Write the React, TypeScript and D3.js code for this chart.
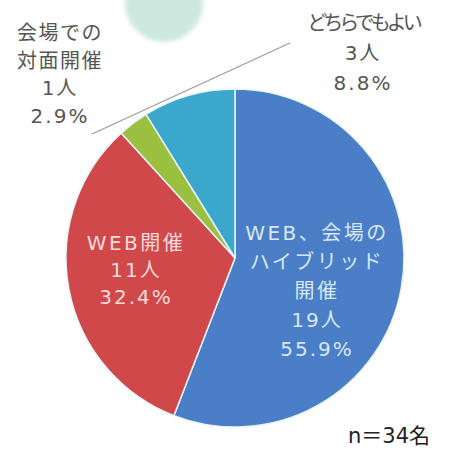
import React from "react";
import * as d3 from "d3";

const categories = ["WEB、会場のハイブリッド開催", "WEB開催", "会場での対面開催", "どちらでもよい"];
const counts = [19, 11, 1, 3];
const percents = ["55.9%", "32.4%", "2.9%", "8.8%"];
const nameLines = [["WEB、会場の", "ハイブリッド", "開催"], ["WEB開催"], ["会場での", "対面開催"], ["どちらでもよい"]];
const colors = ["#4a7ec7", "#d0484a", "#9bbf3e", "#3ba7cd"];
const totalLabel = "n＝34名";

const W = 470, H = 450;
const cx = 235, cy = 258, R = 169;

export default function App() {
  const pie = d3.pie<number>().sort(null).value((d) => d).startAngle(0).endAngle(2 * Math.PI);
  const arcs = pie(counts);
  const arcGen = d3.arc<d3.PieArcDatum<number>>().innerRadius(0).outerRadius(R);
  const font = "'DejaVu Sans', 'Noto Sans CJK JP', sans-serif";

  // label placements (center x, first line y, line gap, fill, per-line spacing)
  const labelPos = [
    { x: 317, y: 233, gap: 29, fill: "#dbe7f6", nameLs: 2.5, numLs: 2 },
    { x: 136, y: 243, gap: 27, fill: "#f6dcdc", nameLs: 2.5, numLs: 2 },
    { x: 60, y: 33, gap: 27.5, fill: "#555555", nameLs: 1.5, numLs: 2 },
    { x: 363, y: 23, gap: 30, fill: "#555555", nameLs: -4, numLs: 2 },
  ];

  return (
    <svg width={W} height={H} style={{ position: "absolute", left: 0, top: 0, background: "#ffffff" }}>
      <defs>
        <filter id="soft" x="-20%" y="-20%" width="140%" height="140%">
          <feGaussianBlur stdDeviation="2" />
        </filter>
      </defs>
      <circle cx={164} cy={3} r={39} fill="#cde9df" filter="url(#soft)" />
      <line x1={92} y1={134} x2={290} y2={43} stroke="#9a9a9a" strokeWidth={1.2} />
      <g transform={`translate(${cx},${cy})`}>
        {arcs.map((a, i) => (
          <path key={i} d={arcGen(a) || ""} fill={colors[i]} stroke="#e8f6fb" strokeWidth={1.5} strokeLinejoin="round" />
        ))}
      </g>
      {labelPos.map((p, i) => {
        const names = nameLines[i];
        const lines = [...names, `${counts[i]}人`, percents[i]];
        return (
          <text key={i} x={p.x} fontFamily={font} fontSize={20} fill={p.fill} textAnchor="middle" dominantBaseline="central">
            {lines.map((l, j) => (
              <tspan key={j} x={p.x} y={p.y + j * p.gap} letterSpacing={j < names.length ? p.nameLs : p.numLs}>{l}</tspan>
            ))}
          </text>
        );
      })}
      <text x={389} y={443} fontFamily={font} fontSize={21} fill="#222" textAnchor="middle">
        {totalLabel}
      </text>
    </svg>
  );
}
